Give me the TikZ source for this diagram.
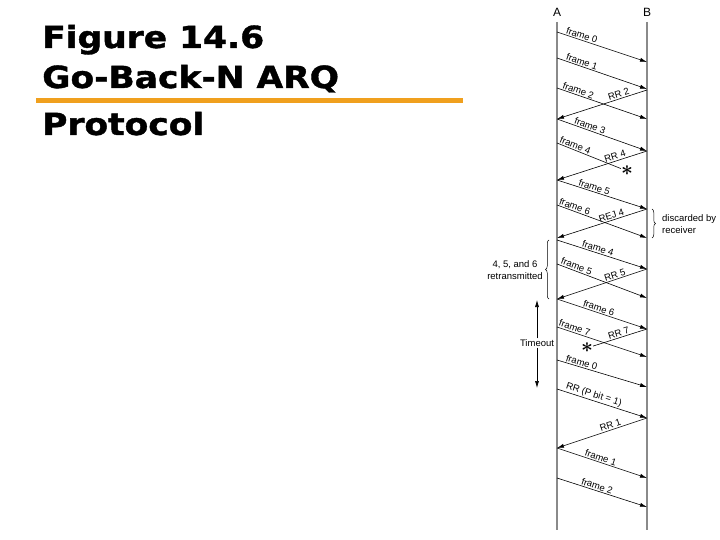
\documentclass[tikz,border=0pt]{standalone}
\usepackage{fontspec}
\setmainfont{Liberation Sans}
\newfontfamily\titlefont{DejaVu Sans}[BoldFeatures={FakeBold=1.2}]
\usepackage{amsmath}
\usepackage{tikz}
\usetikzlibrary{arrows.meta,positioning,decorations.pathreplacing}
\definecolor{TitleRule}{HTML}{F0A01E}
\definecolor{LineGray} {HTML}{8A8A8A}

\begin{document}
\begin{tikzpicture}[x=1pt,y=-1pt,
    timeline/.style={draw=LineGray,line width=1.8pt},
    msg/.style={-{Latex[length=7pt,width=4pt]},line width=0.6pt},
    lostmsg/.style={line width=0.6pt},
    lbl/.style={sloped,above,inner sep=1pt,font=\fontsize{9.5}{10}\selectfont},
    endlbl/.style={font=\fontsize{12}{12}\selectfont},
    note/.style={font=\fontsize{9.5}{11.5}\selectfont,inner sep=0pt},
    curly/.style={decorate,decoration={brace,amplitude=3.5pt},line width=0.5pt},
    hdr/.style={font=\titlefont\bfseries\fontsize{30.5}{30}\selectfont,
                xscale=1.13,anchor=base west,inner sep=0pt},
    lost/.style={font=\fontsize{20}{20}\selectfont,inner sep=0pt}]
  \useasboundingbox (0,0) rectangle (720,540);

  % title
  \node[hdr] (title1) at (42,48)  {Figure 14.6};
  \node[hdr] (title2) at (42,88)  {Go-Back-N ARQ};
  \node[hdr] (title3) at (42,135) {Protocol};
  \draw[TitleRule,line width=5pt] (36,101) -- (463,101);

  % stations
  \node[endlbl] (A) at (557,12) {A};
  \node[endlbl] (B) at (647,12) {B};
  \coordinate (A-end) at (557,530);
  \coordinate (B-end) at (647,530);
  \draw[timeline] (A) ++(0,10) -- (A-end);
  \draw[timeline] (B) ++(0,10) -- (B-end);

  % frames A -> B
  \foreach \n/\ya/\yb/\p/\txt in {f0/32/62/.26/frame 0, f1/58/89/.26/frame 1,
      f2/88/119/.22/frame 2, f3/119/151/.35/frame 3, f5/180/209/.4/frame 5,
      f6/205/238/.18/frame 6, g4/240/269/.44/frame 4, g5/264/298/.2/frame 5,
      g6/299/329/.45/frame 6, g7/327/357/.18/frame 7, g0/360/387/.26/frame 0,
      rp/389/418/.39/RR (P bit = 1), h1/448/478/.47/frame 1,
      h2/478/507/.43/frame 2}{
    \coordinate (\n-a) at (557,\ya);
    \coordinate (\n-b) at (647,\yb);
    \draw[msg] (\n-a) -- (\n-b) node[lbl,pos=\p] {\txt};
  }

  % acknowledgements B -> A
  \foreach \n/\yb/\ya/\p/\txt in {r2/90/119/.3/RR 2, r4/151/180/.34/RR 4,
      rj/209/238/.38/REJ 4, r5/269/299/.34/RR 5, r1/418/448/.39/RR 1}{
    \coordinate (\n-b) at (647,\yb);
    \coordinate (\n-a) at (557,\ya);
    \draw[msg] (\n-b) -- (\n-a) node[lbl,pos=\p] {\txt};
  }

  % lost ones
  \node[lost] (lost4) at (627,171) {$\boldsymbol{\ast}$};
  \coordinate (f4-a) at (557,143);
  \draw[lostmsg] (f4-a) -- (lost4) node[lbl,pos=.26] {frame 4};
  \node[lost] (lost7) at (587,348) {$\boldsymbol{\ast}$};
  \coordinate (r7-b) at (647,329);
  \draw[lostmsg] (r7-b) -- (lost7) node[lbl,pos=.5] {RR 7};

  % notes
  \coordinate (disc-top) at (652,209);
  \coordinate (disc-bot) at (652,238);
  \draw[curly] (disc-top) -- (disc-bot);
  \node[note,anchor=west,align=left] (disc) at (662,224) {discarded by\\receiver};

  \coordinate (retx-top) at (549,240);
  \coordinate (retx-bot) at (549,299);
  \draw[curly] (retx-bot) -- (retx-top);
  \node[note,align=center] (retx) at (515,270) {4, 5, and 6\\retransmitted};

  \node[note,fill=white,inner sep=1pt] (tmo) at (537,343) {Timeout};
  \coordinate (tmo-top) at (537,300);
  \coordinate (tmo-bot) at (537,388);
  \draw[msg] (tmo) -- (tmo-top);
  \draw[msg] (tmo) -- (tmo-bot);
\end{tikzpicture}
\end{document}
